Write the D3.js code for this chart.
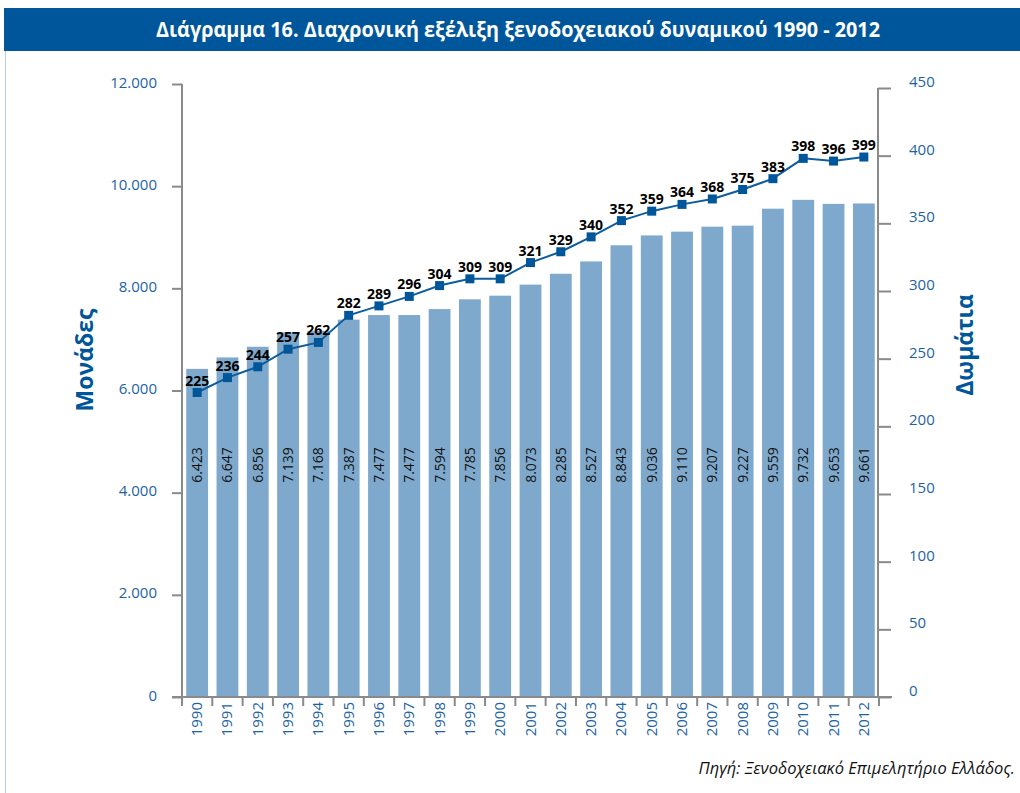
<!DOCTYPE html>
<html>
<head>
<meta charset="utf-8">
<script src="https://cdn.jsdelivr.net/npm/d3@7"></script>
<style>
	body { margin: 0; background: #fff; }
	svg { display: block; font-family: "Open Sans", "Noto Sans", sans-serif; }
</style>
</head>
<body>
<svg width="1020" height="793"></svg>
<script>
var years = ["1990","1991","1992","1993","1994","1995","1996","1997","1998","1999","2000","2001",
	"2002","2003","2004","2005","2006","2007","2008","2009","2010","2011","2012"];
var units = [6423, 6647, 6856, 7139, 7168, 7387, 7477, 7477, 7594, 7785, 7856, 8073,
	8285, 8527, 8843, 9036, 9110, 9207, 9227, 9559, 9732, 9653, 9661];
var rooms = [225, 236, 244, 257, 262, 282, 289, 296, 304, 309, 309, 321,
	329, 340, 352, 359, 364, 368, 375, 383, 398, 396, 399];
var leftTicks = [0, 2000, 4000, 6000, 8000, 10000, 12000];
var rightTicks = [0, 50, 100, 150, 200, 250, 300, 350, 400, 450];

var titleText = "Διάγραμμα 16. Διαχρονική εξέλιξη ξενοδοχειακού δυναμικού 1990 - 2012",
	leftTitle = "Μονάδες",
	rightTitle = "Δωμάτια",
	sourceText = "Πηγή: Ξενοδοχειακό Επιμελητήριο Ελλάδος.";

var axisBlue = "#1c63a3",
	darkBlue = "#00569a",
	barColor = "#7fa9cc",
	gridGrey = "#8a8a8a";

var svg = d3.select("svg");

// frame + title bar
svg.append("line")
	.attr("x1", 5.5).attr("x2", 5.5).attr("y1", 8).attr("y2", 793)
	.attr("stroke", "#b8cde2").attr("stroke-width", 1);
svg.append("rect")
	.attr("x", 4).attr("y", 8).attr("width", 1016).attr("height", 43)
	.attr("fill", darkBlue);
svg.append("text")
	.attr("x", 156).attr("y", 37)
	.attr("fill", "#fff")
	.attr("textLength", 724)
	.attr("lengthAdjust", "spacingAndGlyphs")
	.style("font-weight", "bold")
	.style("font-size", "21px")
	.text(titleText);

var x = d3.scaleBand()
	.domain(years)
	.range([182, 879])
	.paddingInner(0.28)
	.paddingOuter(0.14);

var yLeft = d3.scaleLinear().domain([0, 12000]).range([697, 84]);
var yRight = d3.scaleLinear().domain([0, 450]).range([697, 88]);

var fmt = d3.formatLocale({decimal: ",", thousands: ".", grouping: [3], currency: ["", ""]}).format(",");

// bars
svg.append("g").selectAll("rect").data(units).enter()
	.append("rect")
	.attr("x", function(d, i){ return x(years[i]); })
	.attr("y", function(d){ return yLeft(d); })
	.attr("width", x.bandwidth())
	.attr("height", function(d){ return yLeft(0) - yLeft(d); })
	.attr("fill", barColor);

// bar value labels
svg.append("g").selectAll("text").data(units).enter()
	.append("text")
	.attr("transform", function(d, i){
		return "translate(" + (x(years[i]) + x.bandwidth() / 2 + 5) + ",465) rotate(-90)";
	})
	.attr("text-anchor", "middle")
	.style("font-size", "14px")
	.attr("fill", "#111")
	.text(function(d){ return fmt(d); });

// left axis
var left = svg.append("g").attr("transform", "translate(182,0)")
	.call(d3.axisLeft(yLeft).tickValues(leftTicks).tickSize(10).tickPadding(15)
		.tickFormat(function(d){ return fmt(d); }))
	.attr("font-family", null).attr("font-size", null);
left.select(".domain").attr("stroke", gridGrey).attr("stroke-width", 2).attr("d", "M0,84V697");
left.selectAll(".tick line").attr("stroke", gridGrey).attr("stroke-width", 2);
left.selectAll(".tick text").attr("fill", axisBlue).style("font-size", "15px").attr("dy", "0.2em");

// right axis
var right = svg.append("g").attr("transform", "translate(878,0)")
	.call(d3.axisRight(yRight).tickValues(rightTicks).tickSize(13).tickPadding(18))
	.attr("font-family", null).attr("font-size", null);
right.select(".domain").attr("stroke", gridGrey).attr("stroke-width", 2).attr("d", "M0,88V697");
right.selectAll(".tick line").attr("stroke", gridGrey).attr("stroke-width", 2);
right.selectAll(".tick text").attr("fill", axisBlue).style("font-size", "15px").attr("dy", "-0.1em");

// x axis
var bottom = svg.append("g").attr("transform", "translate(0,697)");
bottom.append("line")
	.attr("x1", 172).attr("x2", 892)
	.attr("stroke", gridGrey).attr("stroke-width", 2);
bottom.selectAll(".xtick").data(years.concat(["end"])).enter()
	.append("line")
	.attr("x1", function(d, i){ return 182 + i * x.step(); })
	.attr("x2", function(d, i){ return 182 + i * x.step(); })
	.attr("y1", 0).attr("y2", 9)
	.attr("stroke", gridGrey).attr("stroke-width", 2);
bottom.selectAll("text").data(years).enter()
	.append("text")
	.attr("transform", function(d){
		return "translate(" + (x(d) + x.bandwidth() / 2 + 5) + ",5) rotate(-90)";
	})
	.attr("text-anchor", "end")
	.attr("fill", axisBlue)
	.style("font-size", "15px")
	.text(function(d){ return d; });

// rooms line
var line = d3.line()
	.x(function(d, i){ return x(years[i]) + x.bandwidth() / 2; })
	.y(function(d){ return yRight(d); });

svg.append("path")
	.datum(rooms)
	.attr("d", line)
	.attr("fill", "none")
	.attr("stroke", "#0d5c9e")
	.attr("stroke-width", 2);

svg.append("g").selectAll("rect").data(rooms).enter()
	.append("rect")
	.attr("x", function(d, i){ return x(years[i]) + x.bandwidth() / 2 - 4.5; })
	.attr("y", function(d){ return yRight(d) - 4.5; })
	.attr("width", 9).attr("height", 9)
	.attr("fill", darkBlue);

svg.append("g").selectAll("text").data(rooms).enter()
	.append("text")
	.attr("x", function(d, i){ return x(years[i]) + x.bandwidth() / 2; })
	.attr("y", function(d){ return yRight(d) - 7; })
	.attr("text-anchor", "middle")
	.style("font-size", "14px")
	.style("font-weight", "bold")
	.attr("fill", "#000")
	.text(function(d){ return d; });

// axis titles
svg.append("text")
	.attr("transform", "translate(93,360) rotate(-90)")
	.attr("text-anchor", "middle")
	.attr("fill", darkBlue)
	.style("font-size", "23px")
	.style("font-weight", "bold")
	.text(leftTitle);
svg.append("text")
	.attr("transform", "translate(973,345) rotate(-90)")
	.attr("text-anchor", "middle")
	.attr("fill", darkBlue)
	.style("font-size", "23px")
	.style("font-weight", "bold")
	.text(rightTitle);

// source
svg.append("text")
	.attr("x", 1015).attr("y", 774)
	.attr("text-anchor", "end")
	.style("font-size", "16.5px")
	.style("font-style", "italic")
	.attr("fill", "#111")
	.text(sourceText);
</script>
</body>
</html>
